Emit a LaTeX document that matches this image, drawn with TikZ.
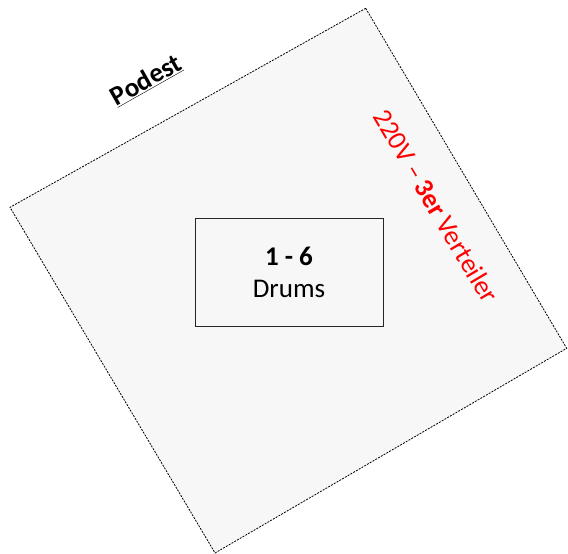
\documentclass[tikz,border=0pt]{standalone}
\usepackage{fontspec}
\setmainfont{Carlito}
\definecolor{podfill}{HTML}{F7F7F7}
\definecolor{vred}{HTML}{FF0000}
\tikzset{
  podium/.style={draw=black, fill=podfill, line width=0.8pt, dash pattern=on 2pt off 1.2pt},
  drumbox/.style={draw=black!85, line width=0.9pt, minimum width=188pt, minimum height=108pt, align=center, inner sep=0pt},
  bigtext/.style={font=\fontsize{27}{32}\selectfont}
}
\begin{document}
\begin{tikzpicture}[x=1pt,y=-1pt]
\useasboundingbox (0,0) rectangle (568,554);
\coordinate (T) at (365.7,8.3);
\coordinate (R) at (566.7,348.3);
\coordinate (B) at (215,553);
\coordinate (L) at (10,207.3);
\draw[podium] (T) -- (R) -- (B) -- (L) -- cycle;
\node[drumbox, bigtext] (drums) at (289,272.5) {\textbf{1 - 6}\\Drums};
\node[bigtext, rotate=29.5] (podest) at (146,80) {\textbf{\underline{Podest}}};
\node[bigtext, text=vred, rotate=-59.4] (verteiler) at (436,206) {220V – \textbf{3er} Verteiler};
\end{tikzpicture}
\end{document}
